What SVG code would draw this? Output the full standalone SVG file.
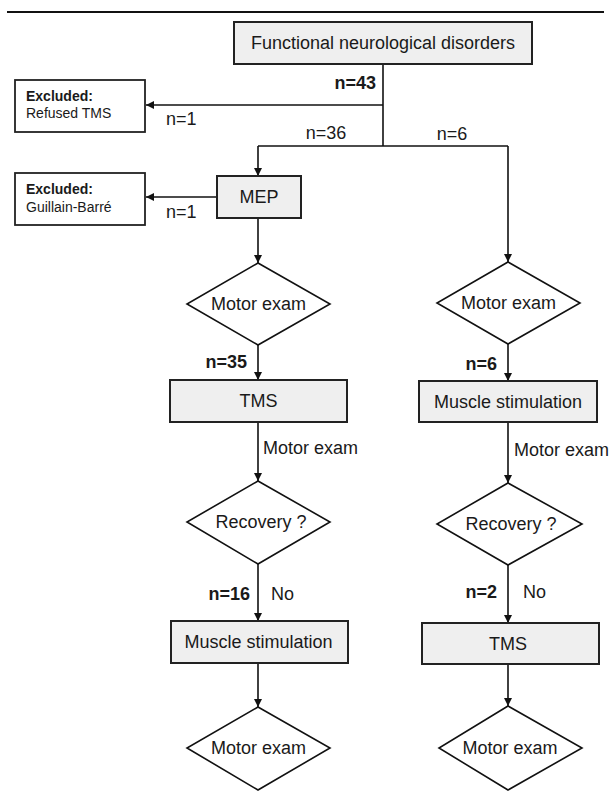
<svg xmlns="http://www.w3.org/2000/svg" width="611" height="795" viewBox="0 0 611 795">
<defs>
<marker id="arr" viewBox="0 0 10 10" refX="10" refY="5" markerWidth="8" markerHeight="8" markerUnits="userSpaceOnUse" orient="auto">
<path d="M0,0 L10,5 L0,10 z" fill="#111"/>
</marker>
<style>
text{font-family:"Liberation Sans",Arial,sans-serif;font-size:18px;fill:#1a1a1a}
.b{font-weight:bold}
.s{font-size:14px}
.box{fill:#efefef;stroke:#222;stroke-width:2}
.ex{fill:#fff;stroke:#222;stroke-width:1.8}
.dia{fill:#fff;stroke:#111;stroke-width:1.6}
.c{text-anchor:middle}
.e{text-anchor:end}
.ln{fill:none;stroke:#111;stroke-width:1.6}
.ar{fill:none;stroke:#111;stroke-width:1.6;marker-end:url(#arr)}
</style>
</defs>
<rect width="611" height="795" fill="#fff"/>
<line x1="7" y1="12" x2="604" y2="12" stroke="#111" stroke-width="2"/>

<g id="connectors">
<path class="ln" d="M383,64 V146"/>
<path class="ln" d="M258,146 H508"/>
<path class="ar" d="M258,146 V176"/>
<path class="ar" d="M508,146 V262"/>
<path class="ar" d="M383,105 H146"/>
<path class="ar" d="M217,197 H146"/>
<path class="ar" d="M258,218 V263"/>
<path class="ar" d="M258,345 V380"/>
<path class="ar" d="M258,422 V481"/>
<path class="ar" d="M258,564 V621"/>
<path class="ar" d="M258,663 V707"/>
<path class="ar" d="M508,344 V381"/>
<path class="ar" d="M508,422 V483"/>
<path class="ar" d="M508,565 V623"/>
<path class="ar" d="M508,664 V706"/>
</g>

<g id="labels">
<text class="b e" x="376" y="89">n=43</text>
<text x="166" y="125">n=1</text>
<text class="c" x="326" y="139">n=36</text>
<text class="c" x="452" y="140">n=6</text>
<text x="166" y="218">n=1</text>
<text class="b e" x="247" y="368">n=35</text>
<text class="b e" x="497" y="370">n=6</text>
<text x="263" y="454">Motor exam</text>
<text x="514" y="456">Motor exam</text>
<text class="b e" x="250" y="600">n=16</text>
<text x="271" y="600">No</text>
<text class="b e" x="497" y="598">n=2</text>
<text x="523" y="598">No</text>
</g>

<g id="fnd">
<rect class="box" x="234" y="22" width="298" height="42"/>
<text class="c" x="383" y="49">Functional neurological disorders</text>
</g>
<g id="excl1">
<rect class="ex" x="15" y="80" width="130" height="52"/>
<text class="s b" x="26" y="101">Excluded:</text>
<text class="s" x="26" y="118">Refused TMS</text>
</g>
<g id="excl2">
<rect class="ex" x="15" y="173" width="130" height="52"/>
<text class="s b" x="26" y="194">Excluded:</text>
<text class="s" x="26" y="212">Guillain-Barré</text>
</g>
<g id="mep">
<rect class="box" x="217" y="176" width="84" height="42"/>
<text class="c" x="259" y="203">MEP</text>
</g>
<g id="motor1">
<polygon class="dia" points="258,263 330,304 258,345 187,304"/>
<text class="c" x="258.5" y="310">Motor exam</text>
</g>
<g id="motor2">
<polygon class="dia" points="508,262 580,303 508,344 437,303"/>
<text class="c" x="508.5" y="309">Motor exam</text>
</g>
<g id="tms1">
<rect class="box" x="170" y="380" width="177" height="42"/>
<text class="c" x="258.5" y="407">TMS</text>
</g>
<g id="musc1">
<rect class="box" x="419" y="381" width="178" height="41"/>
<text class="c" x="508" y="408">Muscle stimulation</text>
</g>
<g id="rec1">
<polygon class="dia" points="258,481 330,522 258,564 187,522"/>
<text class="c" x="261" y="528">Recovery ?</text>
</g>
<g id="rec2">
<polygon class="dia" points="508,483 582,524 508,565 437,524"/>
<text class="c" x="511" y="530">Recovery ?</text>
</g>
<g id="musc2">
<rect class="box" x="171" y="621" width="177" height="42"/>
<text class="c" x="258.5" y="648">Muscle stimulation</text>
</g>
<g id="tms2">
<rect class="box" x="422" y="623" width="177" height="41"/>
<text class="c" x="508" y="650">TMS</text>
</g>
<g id="motor3">
<polygon class="dia" points="258,707 330,748 258,790 187,748"/>
<text class="c" x="258.5" y="754">Motor exam</text>
</g>
<g id="motor4">
<polygon class="dia" points="508,706 582,748 508,790 439,748"/>
<text class="c" x="510" y="754">Motor exam</text>
</g>
</svg>
